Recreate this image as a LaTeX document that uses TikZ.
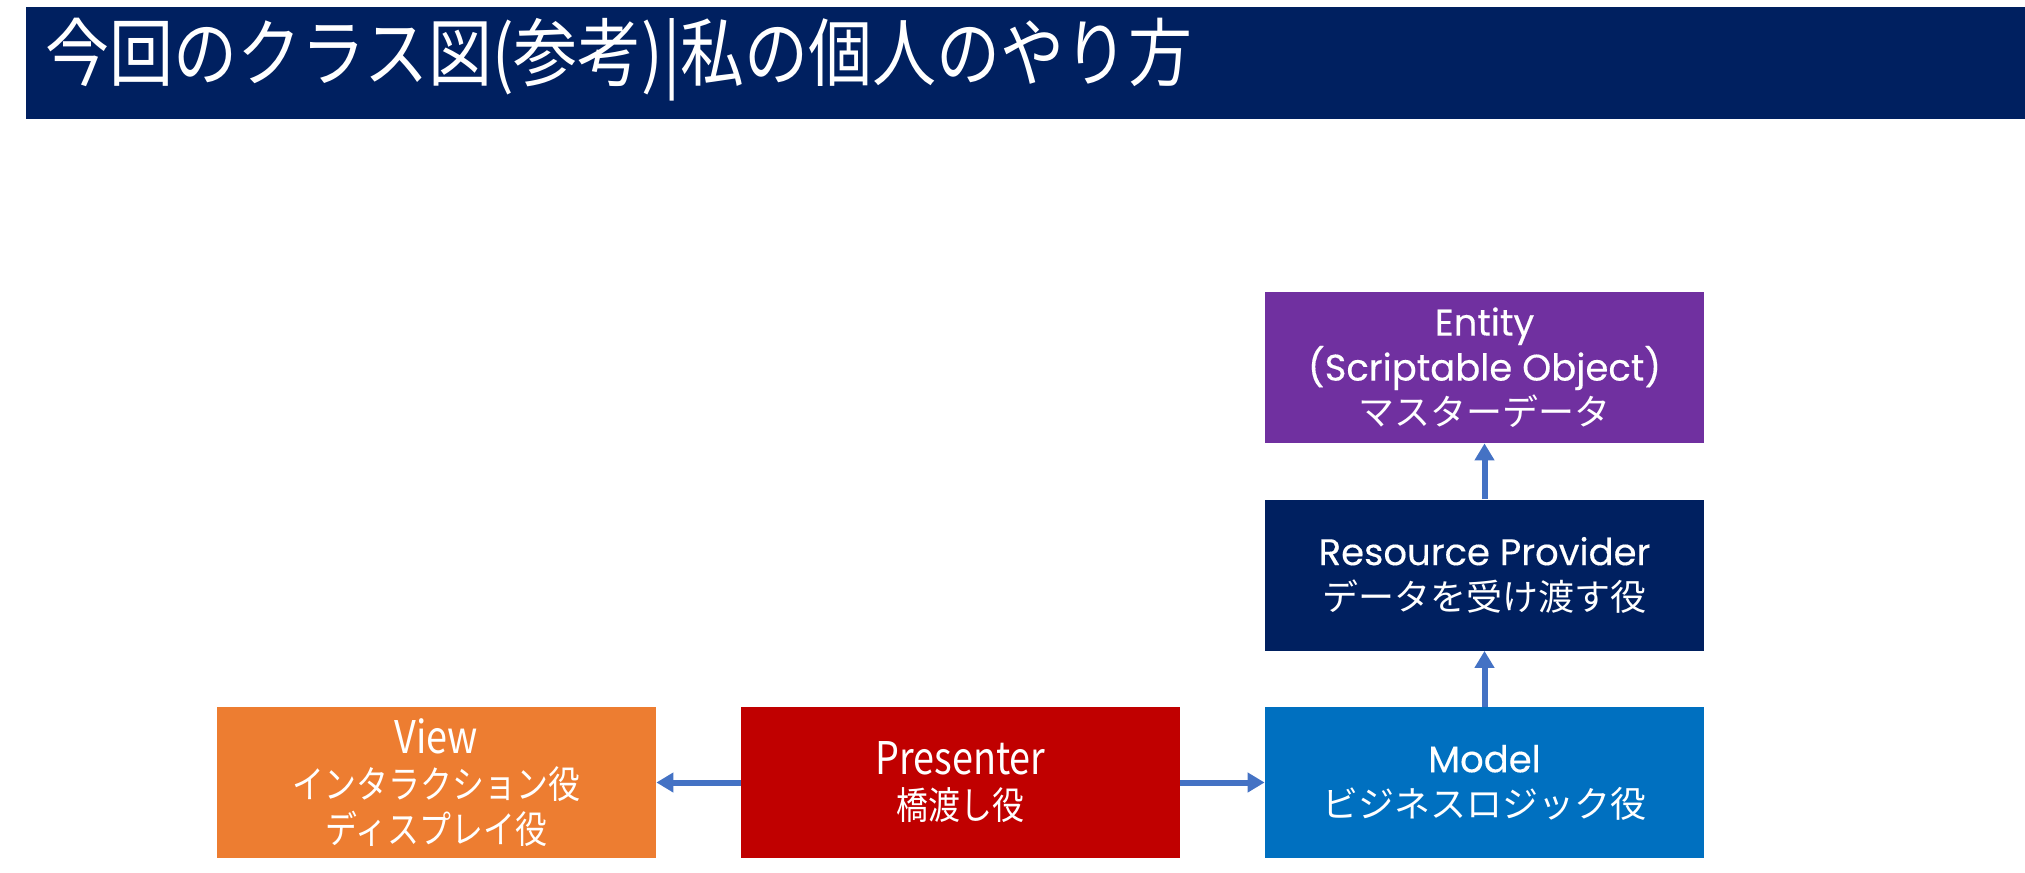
\documentclass[tikz,border=0pt]{standalone}
\usepackage{fontspec}
\setmainfont{Noto Sans CJK JP}
\newfontfamily\titlefont[FakeStretch=0.865]{Noto Sans CJK JP}
\newfontfamily\condfont[FakeStretch=0.84]{Noto Sans CJK JP}
\newfontfamily\geofont[FakeBold=0.3]{Poppins}
\newcommand{\geoline}[1]{{\geofont\fontsize{18.5}{22.5}\selectfont #1}}
\newcommand{\condlatin}[1]{{\fontsize{22.5}{22.5}\selectfont #1}}
\usetikzlibrary{arrows.meta}
\definecolor{navy}{HTML}{002060}
\definecolor{entitypurple}{HTML}{7030A0}
\definecolor{modelblue}{HTML}{0070C0}
\definecolor{presred}{HTML}{C00000}
\definecolor{vieworange}{HTML}{ED7D31}
\definecolor{arrowblue}{HTML}{4472C4}
\begin{document}
\begin{tikzpicture}[x=0.5pt,y=-0.5pt,
  box/.style={minimum width=219.5pt, minimum height=75.5pt, inner sep=0pt, align=center, text=white, font=\fontsize{18}{22.5}\selectfont},
  condbox/.style={box, font=\condfont\fontsize{19}{22.5}\selectfont},
  conn/.style={draw=arrowblue, line width=3pt, -{Triangle[length=8.5pt,width=9.5pt]}}]
\useasboundingbox (0,0) rectangle (2025,873);
\fill[navy] (26,7) rectangle (2025,119);
\node[anchor=west, text=white, font=\titlefont\fontsize{37}{40}\selectfont, inner sep=0pt] (title) at (45,60) {今回のクラス図(参考)|私の個人のやり方};
\node[box, fill=entitypurple] (entity) at (1484.5,367.5) {\geoline{Entity}\\\geoline{(Scriptable Object)}\\マスターデータ};
\node[box, fill=navy] (rp) at (1484.5,575) {\geoline{Resource Provider}\\データを受け渡す役};
\node[box, fill=modelblue] (model) at (1484.5,782.5) {\geoline{Model}\\ビジネスロジック役};
\node[condbox, fill=presred] (presenter) at (960.5,782.5) {\condlatin{Presenter}\\橋渡し役};
\node[condbox, fill=vieworange] (view) at (436.5,782.5) {\condlatin{View}\\インタラクション役\\ディスプレイ役};
\draw[conn] (presenter.west) -- (view.east);
\draw[conn] (presenter.east) -- (model.west);
\draw[conn] (model.north) -- (rp.south);
\draw[conn] (rp.north) -- (entity.south);
\end{tikzpicture}
\end{document}
